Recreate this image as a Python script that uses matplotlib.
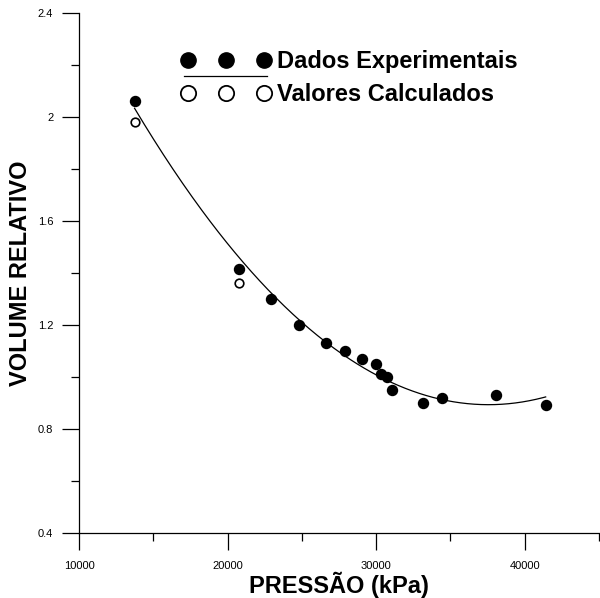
import numpy as np
import matplotlib
matplotlib.use("Agg")
import matplotlib.pyplot as plt
from matplotlib.lines import Line2D

plt.rcParams['font.family'] = ['Liberation Sans', 'DejaVu Sans']

# Experimental data
pressure_exp = [13740, 20740, 22930, 24790, 26640, 27920, 29040, 29980,
                30340, 30720, 31070, 33130, 34400, 38100, 41410]
volume_exp = [2.063, 1.414, 1.301, 1.200, 1.130, 1.100, 1.070, 1.050,
              1.010, 1.000, 0.950, 0.900, 0.920, 0.930, 0.891]
# Calculated values (visible)
pressure_calc = [13740, 20740]
volume_calc = [1.982, 1.363]

x_major = [10000, 20000, 30000, 40000]
y_major = [0.4, 0.8, 1.2, 1.6, 2.0, 2.4]
y_labels = ["0.4", "0.8", "1.2", "1.6", "2", "2.4"]

fig = plt.figure(figsize=(6.0, 5.98), dpi=100)
ax = fig.add_axes([79/600, 1-533/598, 520/600, 520/598])

# trend curve (quadratic fit of experimental data)
coef = np.polyfit(pressure_exp, volume_exp, 2)
xs = np.linspace(min(pressure_exp), max(pressure_exp), 300)
ax.plot(xs, np.polyval(coef, xs), color='black', lw=0.9, zorder=2)

ax.plot(pressure_exp, volume_exp, 'o', color='black', ms=7.2, zorder=3)
ax.plot(pressure_calc, volume_calc, 'o', mfc='white', mec='black', mew=1.2,
        ms=6.2, zorder=3)

ax.set_xlim(10000, 45000)
ax.set_ylim(0.4, 2.4)
ax.set_xticks(x_major)
ax.set_xticklabels([str(v) for v in x_major])
ax.set_xticks([15000, 25000, 35000, 45000], minor=True)
ax.set_yticks(y_major)
ax.set_yticklabels(y_labels)
ax.set_yticks([0.6, 1.0, 1.4, 1.8, 2.2], minor=True)
for s in ['top', 'right']:
    ax.spines[s].set_visible(False)
for s in ['left', 'bottom']:
    ax.spines[s].set_linewidth(0.9)
ax.tick_params(which='major', direction='out', length=12, width=0.9,
               labelsize=8)
ax.tick_params(axis='x', which='major', pad=8)
ax.tick_params(axis='y', which='major', pad=6.5)
ax.tick_params(which='minor', direction='out', length=6, width=0.9)

ax.set_xlabel("PRESSÃO (kPa)", fontsize=17, fontweight='bold', labelpad=0.5)
ax.set_ylabel("VOLUME RELATIVO", fontsize=17, fontweight='bold', labelpad=4)

h1 = Line2D([], [], ls='none', marker='o', color='black', ms=11)
h2 = Line2D([], [], ls='none', marker='o', mfc='white', mec='black', mew=1.3, ms=11)
fs = 17
leg = fig.legend([h1, h2], ["Dados Experimentais", "Valores Calculados"],
                 loc='center left', bbox_to_anchor=(181/600, 1-78/598),
                 numpoints=3, handlelength=3.82, handletextpad=0.25,
                 labelspacing=0.42, frameon=False, borderpad=0, borderaxespad=0,
                 prop={'size': fs, 'weight': 'bold'})
fig.add_artist(Line2D([184/600, 267/600], [1-76/598, 1-76/598], color='black', lw=0.9))

fig.savefig("out.png", dpi=100)
